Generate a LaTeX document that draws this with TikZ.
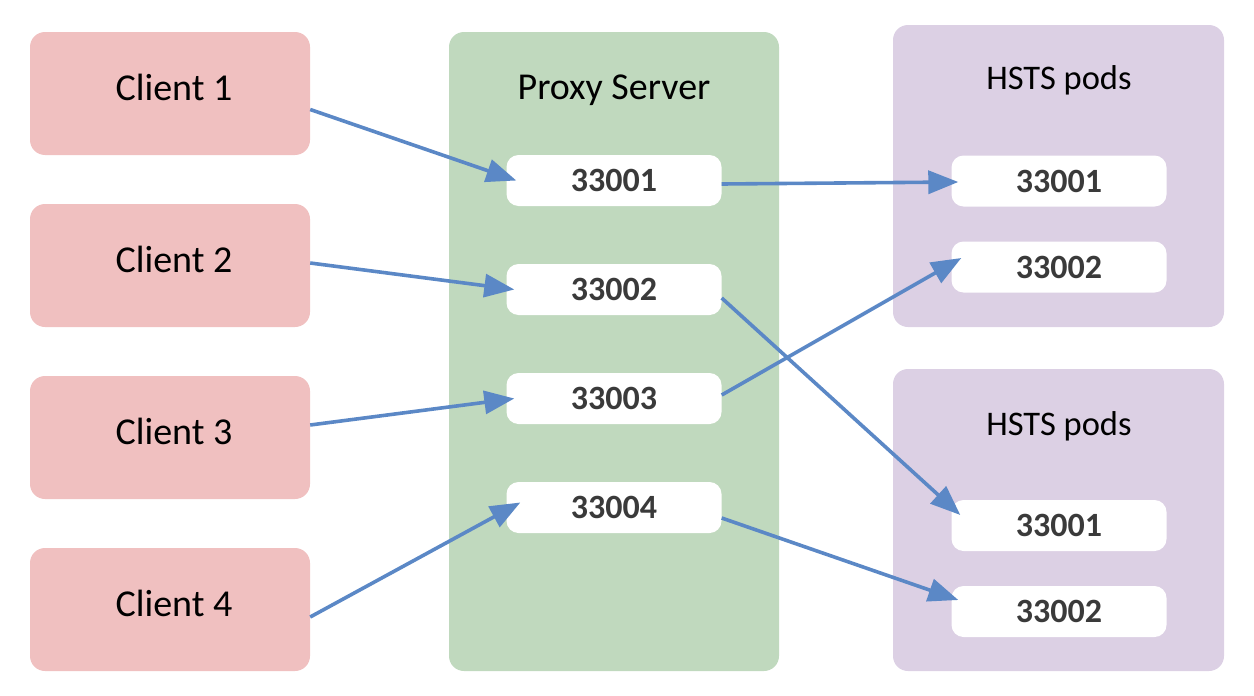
\documentclass[tikz,border=0pt]{standalone}
\usepackage{fontspec}
\setmainfont{Carlito}
\usetikzlibrary{arrows.meta}
\definecolor{pinkbox}{HTML}{F0C0C0}
\definecolor{greenbox}{HTML}{C0D9BE}
\definecolor{lavbox}{HTML}{DCD0E4}
\definecolor{arrowblue}{HTML}{5B88C6}
\definecolor{numgray}{HTML}{3A3A3A}
\tikzset{
  clientbox/.style={fill=pinkbox, draw=none, rounded corners=15pt, minimum width=280pt, minimum height=123pt, inner sep=0pt},
  proxybox/.style={fill=greenbox, draw=none, rounded corners=15pt, minimum width=330pt, minimum height=639pt, inner sep=0pt},
  podbox/.style={fill=lavbox, draw=none, rounded corners=15pt, minimum width=331pt, minimum height=302pt, inner sep=0pt},
  portbox/.style={fill=white, draw=none, rounded corners=12pt, minimum width=215pt, minimum height=51pt, inner sep=0pt,
    font=\fontsize{34}{38}\selectfont\bfseries, text=numgray},
  bigtext/.style={font=\fontsize{38}{42}\selectfont, text=black, inner sep=0pt},
  podtext/.style={font=\fontsize{34.5}{38}\selectfont, text=black, inner sep=0pt},
  link/.style={draw=arrowblue, line width=3.6pt, -{Triangle[length=30pt,width=23pt]}}
}
\begin{document}
\begin{tikzpicture}[x=1pt,y=-1pt]
\useasboundingbox (0,0) rectangle (1254,696);
% clients
\node[clientbox] (c1) at (170,93.5) {};
\node[clientbox] (c2) at (170,265.5) {};
\node[clientbox] (c3) at (170,437.5) {};
\node[clientbox] (c4) at (170,609.5) {};
\node[bigtext] (t1) at (174,87) {Client 1};
\node[bigtext] (t2) at (174,259) {Client 2};
\node[bigtext] (t3) at (174,431) {Client 3};
\node[bigtext] (t4) at (174,603) {Client 4};
% proxy
\node[proxybox] (proxy) at (614,351.5) {};
\node[bigtext] (ptitle) at (614,90) {Proxy Server};
\node[portbox] (p1) at (614,180.5) {33001};
\node[portbox] (p2) at (614,289.5) {33002};
\node[portbox] (p3) at (614,398.5) {33003};
\node[portbox] (p4) at (614,507.5) {33004};
% pods
\node[podbox] (podA) at (1058.5,176) {};
\node[podbox] (podB) at (1058.5,520) {};
\node[podtext] (htA) at (1059,80) {HSTS pods};
\node[podtext] (htB) at (1059,426) {HSTS pods};
\node[portbox] (h1) at (1059,181) {33001};
\node[portbox] (h2) at (1059,267) {33002};
\node[portbox] (h3) at (1059,525.5) {33001};
\node[portbox] (h4) at (1059,611.5) {33002};
% connectors
\draw[link] ([yshift=-16pt]c1.east) -- ([xshift=10pt]p1.west);
\draw[link] ([yshift=2.5pt]c2.east) -- ([xshift=8pt]p2.west);
\draw[link] ([yshift=12.5pt]c3.east) -- ([xshift=8pt]p3.west);
\draw[link] ([yshift=-7.5pt]c4.east) -- ([xshift=14pt,yshift=5pt]p4.west);
\draw[link] ([yshift=-3.5pt]p1.east) -- ([xshift=7pt,yshift=-1pt]h1.west);
\draw[link] ([yshift=3.5pt]p3.east) -- ([xshift=10pt,yshift=9pt]h2.west);
\draw[link] ([yshift=-8.5pt]p2.east) -- ([xshift=9pt,yshift=10.5pt]h3.west);
\draw[link] ([yshift=-10.5pt]p4.east) -- ([xshift=7pt,yshift=11.5pt]h4.west);
\end{tikzpicture}
\end{document}
